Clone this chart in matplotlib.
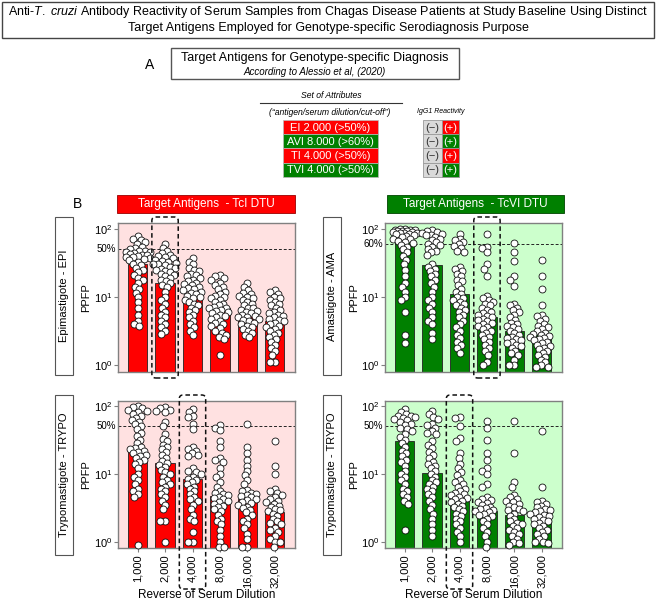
import numpy as np
import matplotlib
matplotlib.use('Agg')
import matplotlib.pyplot as plt
from matplotlib.patches import Rectangle, FancyBboxPatch
from matplotlib.ticker import NullLocator

plt.rcParams['font.family'] = ['Liberation Sans', 'DejaVu Sans']
plt.rcParams['mathtext.fontset'] = 'custom'
plt.rcParams['mathtext.rm'] = 'Liberation Sans'
plt.rcParams['mathtext.it'] = 'Liberation Sans:italic'

# ---------------- data ----------------
dilutions = ["1,000", "2,000", "4,000", "8,000", "16,000", "32,000"]

epi_bars = [30.5, 16.0, 9.9, 6.7, 5.2, 4.35]
ama_bars = [64, 29.8, 10.8, 4.9, 3.1, 2.9]
trypo_tci_bars = [21.9, 14.3, 8.3, 4.6, 4.1, 2.68]
trypo_tcvi_bars = [30.5, 10.05, 4.35, 2.77, 2.34, 2.02]

epi_1000 = [78, 72, 68, 64, 60, 55, 52, 50, 48, 47, 46, 45, 44, 43, 42, 41, 40, 39, 38, 37, 36, 35, 33, 31,
            29, 27, 25, 23, 21, 19, 18, 16, 14, 13, 11.5, 10, 8.5, 7, 5.5, 4.5, 4.0, 3.8]
epi_2000 = [60, 52, 47, 44, 42, 40, 38, 37, 35, 34, 33, 32, 31, 30, 29, 28, 27, 26, 25, 24, 23, 22, 21, 20,
            19, 18, 17, 16, 15, 14, 12, 10, 9, 8, 7, 6, 5.5, 5, 4.5, 4, 3.6, 3.2, 2.9]
epi_4000 = [37, 33, 30, 27, 25, 24, 22, 21, 20, 19, 18, 17, 16, 15.5, 15, 14, 13.5, 13, 12.5, 12, 11.5, 11,
            10.5, 10, 9.5, 9, 8.5, 8, 7.5, 7, 6.5, 6, 5.5, 5, 4.5, 4, 3.6, 3.2, 2.8]
epi_8000 = [21, 20, 19, 18, 16, 15, 14, 13, 12, 11, 10.5, 10, 9.5, 9, 8.5, 8, 7.5, 7.2, 7, 6.8, 6.5, 6.2, 6,
            5.8, 5.5, 5.2, 5, 4.8, 4.5, 4.2, 4, 3.8, 3.5, 3.2, 3, 2.8, 2.6, 2.4, 1.4]
epi_16000 = [16, 14, 12.5, 11.5, 11, 10.5, 10, 9.5, 9, 8.5, 8, 7.5, 7, 6.8, 6.5, 6.2, 6, 5.8, 5.5, 5.3, 5.1,
             5, 4.8, 4.6, 4.4, 4.2, 4, 3.8, 3.6, 3.4, 3.2, 3, 2.8, 2.6]
epi_32000 = [12.5, 12, 11, 10, 9.5, 9, 8.5, 8, 7.5, 7, 6.5, 6, 5.8, 5.5, 5.2, 5, 4.8, 4.6, 4.4, 4.2, 4, 3.8,
             3.6, 3.4, 3.2, 3, 2.8, 2.6, 2.4, 2.2, 2, 1.8, 1.6, 1.4, 1.1, 1.1]

ama_1000 = [100, 98, 97, 96, 95, 94, 93, 92, 90, 89, 88, 87, 86, 85, 83, 80, 78, 75, 72, 70, 67, 64, 61, 58,
            55, 50, 45, 40, 35, 30, 25, 20, 16, 14, 12, 10, 9, 6, 2.8, 2.1]
ama_2000 = [95, 92, 90, 88, 85, 82, 80, 76, 72, 68, 64, 60, 57, 54, 51, 48, 45, 42, 30, 28, 26, 24, 22, 20,
            18, 16, 14, 12, 10, 9, 8, 7, 6, 5, 4.5, 4, 3, 2.4]
ama_4000 = [85, 72, 68, 64, 60, 56, 52, 48, 45, 28, 26, 24, 22, 20, 18, 17, 15, 13, 12, 11, 10, 9.5, 9, 8.5,
            8, 7.5, 7, 6.5, 6, 5.5, 5, 4.5, 4, 3.6, 3.2, 2.8, 2.5, 2.2, 2, 1.8, 1.5]
ama_8000 = [85, 55, 52, 45, 30, 26, 20, 10.5, 9.5, 9, 8.5, 8, 7.5, 7, 6.5, 6, 5.8, 5.5, 5.2, 5, 4.8, 4.6,
            4.4, 4.2, 4, 3.8, 3.6, 3.4, 3.2, 3, 2.8, 2.6, 2.4, 2.2, 2, 1.8, 1.6, 1.4, 1.1, 1.0]
ama_16000 = [62, 45, 34, 20, 18, 14.5, 8, 7.5, 7, 6.5, 6, 5.5, 5, 4.6, 4.2, 4, 3.8, 3.6, 3.4, 3.2, 3, 2.8,
             2.6, 2.5, 2.4, 2.3, 2.2, 2.1, 2, 1.9, 1.8, 1.6, 1.5, 1.4, 1.2, 1.0, 1.0]
ama_32000 = [35, 20, 13, 7.5, 5.5, 5.2, 4.8, 4.4, 4, 3.8, 3.6, 3.4, 3.2, 3, 2.9, 2.8, 2.7, 2.6, 2.5, 2.4,
             2.3, 2.2, 2.1, 2, 1.9, 1.8, 1.7, 1.6, 1.5, 1.4, 1.3, 1.2, 1.1, 1.0, 0.95, 0.95]

tci_1000 = [98, 95, 92, 88, 85, 80, 75, 70, 66, 62, 58, 54, 50, 45, 40, 36, 32, 28, 25, 24, 23, 22, 21, 20,
            19, 18, 17, 16, 15, 14, 12, 10, 9, 8, 7, 6, 5.5, 5, 4.5, 0.9]
tci_2000 = [95, 92, 88, 85, 80, 58, 50, 38, 33, 30, 27, 25, 23, 21, 19, 17, 15.5, 14.5, 13.5, 12.5, 11.5,
            10.5, 10, 9, 8, 7.5, 7, 6.5, 6, 5.5, 5, 4.5, 4, 3.5, 3, 2, 2, 1.0]
tci_4000 = [90, 80, 70, 68, 55, 45, 25, 23, 22, 20, 19, 18, 12, 11, 10.5, 10, 9, 8.5, 8, 7.5, 7, 6.5, 6,
            5.5, 5, 4.5, 4.2, 4, 3.5, 3, 2.5, 2.2, 2, 1.4, 1.0, 1.0]
tci_8000 = [52, 48, 44, 30, 25, 17, 16, 15, 12, 10, 9, 7.5, 6.5, 5.6, 5.3, 5, 4.8, 4.6, 4.4, 4.2, 4, 3.8,
            3.6, 3.4, 3.2, 3, 2.8, 2.5, 2.2, 2, 1.8, 1.5, 1.2, 1.0, 0.85, 0.85]
tci_16000 = [55, 25, 20, 16, 13, 11, 9.5, 8, 7, 5.8, 5.5, 5.3, 5.1, 4.9, 4.7, 4.5, 4.3, 4.1, 3.9, 3.7, 3.5,
             3.3, 3.1, 2.9, 2.7, 2.5, 2.2, 2, 1.8, 1.6, 1.3, 1.1, 0.85, 0.85]
tci_32000 = [30, 13, 10, 6, 5.5, 5.2, 4.8, 4.5, 4.2, 4, 3.8, 3.6, 3.4, 3.2, 3, 2.9, 2.8, 2.6, 2.4, 2.2, 2,
             1.9, 1.8, 1.6, 1.5, 1.4, 1.2, 1.1, 1.0, 1.0, 0.85]

tcvi_1000 = [90, 80, 75, 72, 70, 68, 66, 64, 62, 58, 55, 52, 48, 45, 42, 38, 35, 32, 28, 25, 22, 20, 18, 16,
             15, 13, 11, 10, 9, 8, 7, 6, 5.5, 5, 4.5, 4, 3.6, 1.5]
tcvi_2000 = [85, 75, 68, 65, 55, 52, 48, 42, 40, 38, 30, 27, 24, 21, 19, 17, 15, 14, 13, 12, 11, 10, 9, 8,
             7.5, 7, 6.5, 6, 5.5, 5, 4.5, 4, 3.5, 3, 2.6, 2.2, 1.8, 1.5, 1.2]
tcvi_4000 = [68, 66, 50, 34, 30, 20, 17, 14, 12, 10.5, 9.5, 8, 7.5, 7, 6.5, 6, 5.6, 5.3, 5, 4.8, 4.6, 4.4,
             4.2, 4, 3.8, 3.6, 3.4, 3.2, 3, 2.8, 2.6, 2.4, 2.2, 2, 1.8, 1.6, 1.4, 1.2, 1.0]
tcvi_8000 = [60, 48, 32, 20, 16, 12, 11, 10, 7, 6.5, 4.5, 4.3, 4.1, 3.9, 3.7, 3.5, 3.3, 3.1, 3, 2.9, 2.8,
             2.7, 2.6, 2.5, 2.4, 2.2, 2, 1.8, 1.6, 1.4, 1.2, 1.0, 0.85]
tcvi_16000 = [60, 20, 7.5, 6.5, 4.8, 4.5, 4.2, 4, 3.8, 3.6, 3.4, 3.2, 3, 2.9, 2.8, 2.6, 2.4, 2.2, 2, 1.9,
              1.8, 1.7, 1.6, 1.5, 1.4, 1.3, 1.2, 1.1, 1.0, 0.95, 0.9]
tcvi_32000 = [42, 6.5, 4, 3.8, 3.6, 3.4, 3.2, 3.0, 2.9, 2.8, 2.7, 2.6, 2.5, 2.4, 2.3, 2.2, 2.1, 2, 1.9, 1.8,
              1.7, 1.6, 1.5, 1.4, 1.3, 1.2, 1.1, 1.0, 1.0, 0.95]

attr_labels = ["EI 2.000 (>50%)", "AVI 8.000 (>60%)", "TI 4.000 (>50%)", "TVI 4.000 (>50%)"]

# ---------------- styling ----------------
RED = '#FF0000'
GREEN = '#008000'
PINK_BG = '#FFE1E1'
GREEN_BG = '#CCFFCC'
GRAY = '#808080'

W, H = 656, 601
fig = plt.figure(figsize=(W / 100, H / 100), dpi=100)


def fx(x):
    return x / W


def fy(y):
    return 1 - y / H


def frect(x0, y0, x1, y1, **kw):
    r = Rectangle((fx(x0), fy(y1)), fx(x1) - fx(x0), fy(y0) - fy(y1),
                  transform=fig.transFigure, **kw)
    fig.add_artist(r)
    return r


# ---- title box ----
frect(2, 2, 654, 38, fill=False, edgecolor='#444444', lw=1.0)
fig.text(fx(328), fy(12.5),
         r"Anti-$\it{T.\ cruzi}$ Antibody Reactivity of Serum Samples from Chagas Disease Patients at Study Baseline Using Distinct",
         ha='center', va='center', fontsize=9)
fig.text(fx(328), fy(28), "Target Antigens Employed for Genotype-specific Serodiagnosis Purpose",
         ha='center', va='center', fontsize=9)

# ---- panel A ----
fig.text(fx(150), fy(65), "A", ha='center', va='center', fontsize=10)
frect(171, 48, 459, 79, fill=False, edgecolor='#555555', lw=1.0)
fig.text(fx(315), fy(58.5), "Target Antigens for Genotype-specific Diagnosis", ha='center', va='center',
         fontsize=9)
fig.text(fx(315), fy(72), "According to Alessio et al, (2020)", ha='center', va='center', fontsize=7,
         style='italic')
fig.text(fx(331), fy(96), "Set of Attributes", ha='center', va='center', fontsize=6.2, style='italic')
fig.add_artist(plt.Line2D([fx(260), fx(402)], [fy(102.5), fy(102.5)], transform=fig.transFigure,
                          color='#333333', lw=0.8))
fig.text(fx(330), fy(112), "(\u201cantigen/serum dilution/cut-off\u201d)", ha='center', va='center',
         fontsize=6.2, style='italic')
fig.text(fx(441), fy(111), "IgG1 Reactivity", ha='center', va='center', fontsize=5, style='italic')

row_cols = [RED, GREEN, RED, GREEN]
for i, (lab, c) in enumerate(zip(attr_labels, row_cols)):
    y0 = 120 + i * 14.2
    y1 = y0 + 14.2
    frect(283, y0, 378, y1, facecolor=c, edgecolor='#bbbbbb', lw=0.5)
    fig.text(fx(330.5), fy((y0 + y1) / 2 + 0.5), lab, ha='center', va='center', fontsize=8, color='white')
    frect(423, y0, 442, y1, facecolor='#D9D9D9', edgecolor='#999999', lw=0.6)
    frect(442, y0, 459, y1, facecolor=c, edgecolor='#999999', lw=0.6)
    fig.text(fx(432.5), fy((y0 + y1) / 2 + 0.5), "(\u2212)", ha='center', va='center', fontsize=8,
             color='#333333')
    fig.text(fx(450.5), fy((y0 + y1) / 2 + 0.5), "(+)", ha='center', va='center', fontsize=8, color='white')

# ---- panel B headers ----
fig.text(fx(78), fy(204), "B", ha='center', va='center', fontsize=10)
frect(117, 195, 295, 213, facecolor=RED, edgecolor='#990000', lw=0.6)
fig.text(fx(206), fy(204.5), "Target Antigens  - TcI DTU", ha='center', va='center', fontsize=8.5,
         color='white')
frect(387, 195, 564, 213, facecolor=GREEN, edgecolor='#004400', lw=0.6)
fig.text(fx(475.5), fy(204.5), "Target Antigens  - TcVI DTU", ha='center', va='center', fontsize=8.5,
         color='white')

panels = [
    dict(box=(118, 223, 295, 372), color=RED, bg=PINK_BG, bars=epi_bars,
         pts=[epi_1000, epi_2000, epi_4000, epi_8000, epi_16000, epi_32000],
         cut=50, cutlab="50%", hl=1, row="Epimastigote - EPI", rowbox=(55, 217, 73, 375),
         ylx=86, bottom=False, ylim=(0.79, 122)),
    dict(box=(385, 223, 562, 372), color=GREEN, bg=GREEN_BG, bars=ama_bars,
         pts=[ama_1000, ama_2000, ama_4000, ama_8000, ama_16000, ama_32000],
         cut=60, cutlab="60%", hl=3, row="Amastigote - AMA", rowbox=(323, 217, 341, 375),
         ylx=354, bottom=False, ylim=(0.79, 122)),
    dict(box=(118, 401, 295, 548), color=RED, bg=PINK_BG, bars=trypo_tci_bars,
         pts=[tci_1000, tci_2000, tci_4000, tci_8000, tci_16000, tci_32000],
         cut=50, cutlab="50%", hl=2, row="Trypomastigote - TRYPO", rowbox=(55, 395, 73, 555),
         ylx=86, bottom=True, ylim=(0.81, 118)),
    dict(box=(385, 401, 562, 548), color=GREEN, bg=GREEN_BG, bars=trypo_tcvi_bars,
         pts=[tcvi_1000, tcvi_2000, tcvi_4000, tcvi_8000, tcvi_16000, tcvi_32000],
         cut=50, cutlab="50%", hl=2, row="Trypomastigote - TRYPO", rowbox=(323, 395, 341, 555),
         ylx=354, bottom=True, ylim=(0.81, 118)),
]

SPACING = 27.45
FIRST_OFF = 19.6
S_MARK = 25
COLLIDE = 4.8      # px: allowed centre distance (markers overlap like the original)
MAXOFF = 12.0      # px: max horizontal spread


def swarm(ypix, diam, maxoff):
    order = np.argsort(-ypix)
    cands = np.arange(-maxoff, maxoff + 0.01, 0.5)
    cands = cands[np.argsort(np.abs(cands), kind='stable')]
    px, py = [], []
    out = np.zeros(len(ypix))
    for i in order:
        y = ypix[i]
        if px:
            P = np.array(px)
            Q = np.array(py)
            d2 = (cands[:, None] - P[None, :]) ** 2 + (y - Q[None, :]) ** 2
            mind = d2.min(axis=1)
            ok = mind >= diam ** 2
            c = cands[np.argmax(ok)] if ok.any() else cands[np.argmax(mind)]
        else:
            c = 0.0
        out[i] = c
        px.append(c)
        py.append(y)
    return out


for p in panels:
    x0, y0, x1, y1 = p['box']
    ax = fig.add_axes([fx(x0), fy(y1), fx(x1) - fx(x0), fy(y0) - fy(y1)])
    ax.set_facecolor(p['bg'])
    ax.set_yscale('log')
    ax.set_ylim(*p['ylim'])
    xl0 = -FIRST_OFF / SPACING
    xl1 = xl0 + (x1 - x0) / SPACING
    ax.set_xlim(xl0, xl1)
    xs = np.arange(len(dilutions))
    ax.bar(xs, p['bars'], width=0.7, bottom=0.1, color=p['color'], edgecolor='#222222', lw=0.6, zorder=2)
    ax.axhline(p['cut'], color='#222222', ls=(0, (3, 2)), lw=0.7, zorder=1.5)

    # swarm points
    ppu = ax.transData.transform((1, 1))[0] - ax.transData.transform((0, 1))[0]
    for k, vals in enumerate(p['pts']):
        v = np.array(vals, dtype=float)
        ypix = ax.transData.transform(np.column_stack([np.zeros_like(v), v]))[:, 1]
        off = swarm(ypix, COLLIDE, MAXOFF)
        ax.scatter(k + off / ppu, v, s=S_MARK, facecolor='white', edgecolor='#111111', lw=0.6, zorder=3,
                   clip_on=False)

    for s in ax.spines.values():
        s.set_color(GRAY)
        s.set_linewidth(1.0)
    ax.set_yticks([1, 10, 100])
    ax.set_yticklabels([r'$\mathregular{10^{0}}$', r'$\mathregular{10^{1}}$', r'$\mathregular{10^{2}}$'],
                       fontsize=8)
    ax.yaxis.set_minor_locator(NullLocator())
    ax.tick_params(axis='y', length=3, width=0.8, color=GRAY, pad=1)
    ax.text(-0.012, p['cut'], p['cutlab'], transform=ax.get_yaxis_transform(), ha='right', va='center',
            fontsize=7)
    if p['bottom']:
        ax.set_xticks(xs)
        ax.set_xticklabels(dilutions, rotation=90, fontsize=8)
        ax.tick_params(axis='x', length=3, width=0.8, color=GRAY, pad=1.5)
        fig.text(fx((x0 + x1) / 2), fy(594.5), "Reverse of Serum Dilution", ha='center', va='center',
                 fontsize=8.5)
    else:
        ax.set_xticks([])
    # y label
    fig.text(fx(p['ylx']), fy((y0 + y1) / 2), "PPFP", rotation=90, ha='center', va='center', fontsize=8)
    # row label box
    rx0, ry0, rx1, ry1 = p['rowbox']
    frect(rx0, ry0, rx1, ry1, fill=False, edgecolor='#555555', lw=0.8)
    fig.text(fx((rx0 + rx1) / 2), fy((ry0 + ry1) / 2), p['row'], rotation=90, ha='center', va='center',
             fontsize=8)
    # highlight dashed box
    hx = ax.transData.transform((p['hl'], 1))[0]
    half = 0.48 * SPACING
    hy0 = y0 - 6
    hy1 = y1 + 6 if not p['bottom'] else 589
    box = FancyBboxPatch((fx(hx - half), fy(hy1)), fx(2 * half), fy(hy0) - fy(hy1),
                         boxstyle="round,pad=0,rounding_size=0.006", transform=fig.transFigure,
                         fill=False, edgecolor='#111111', lw=1.1, ls=(0, (3, 2)), zorder=10)
    fig.add_artist(box)

fig.savefig('out.png', dpi=100)
